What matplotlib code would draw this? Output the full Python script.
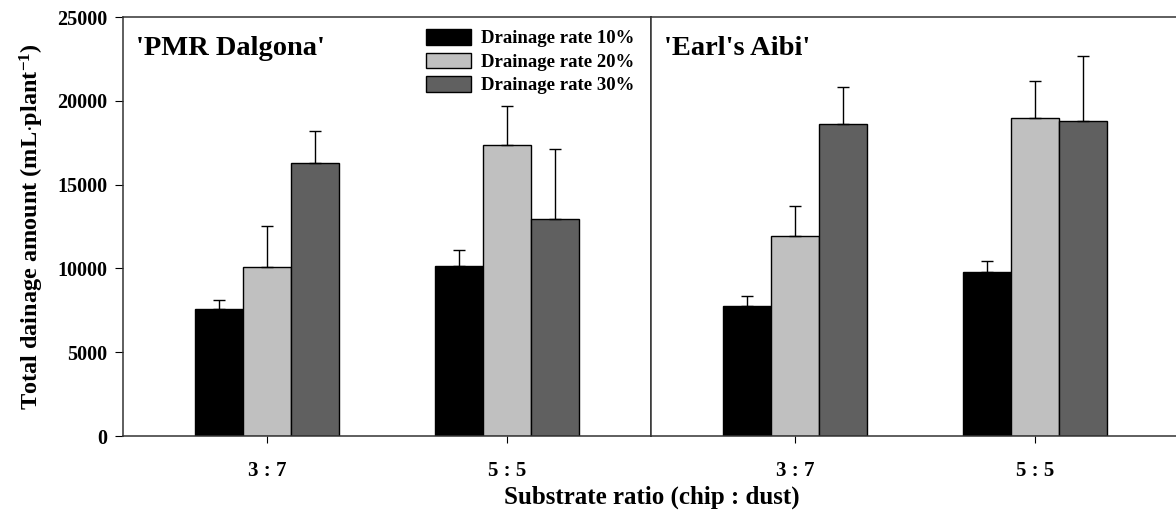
import numpy as np
import matplotlib
matplotlib.use("Agg")
import matplotlib.pyplot as plt

plt.rcParams['font.family'] = ['Liberation Serif', 'DejaVu Serif']
plt.rcParams['font.weight'] = 'bold'
plt.rcParams['mathtext.fontset'] = 'custom'
plt.rcParams['mathtext.rm'] = 'Liberation Serif:bold'
plt.rcParams['mathtext.it'] = 'Liberation Serif:bold'
plt.rcParams['mathtext.bf'] = 'Liberation Serif:bold'

# data
ratios = ["3 : 7", "5 : 5"]
rates = ["Drainage rate 10%", "Drainage rate 20%", "Drainage rate 30%"]
cultivars = ["'PMR Dalgona'", "'Earl's Aibi'"]

dalgona_mean = [[7580, 10120], [10100, 17360], [16290, 12920]]
dalgona_err = [[520, 990], [2440, 2360], [1900, 4200]]
aibi_mean = [[7780, 9760], [11960, 18990], [18630, 18770]]
aibi_err = [[600, 680], [1750, 2220], [2180, 3910]]

colors = ['#000000', '#c0c0c0', '#606060']

fig = plt.figure(figsize=(11.76, 5.16), dpi=100)
ax1 = fig.add_axes([0.1046, 0.155, 0.449, 0.812])
ax2 = fig.add_axes([0.5536, 0.155, 0.449, 0.812], sharey=ax1)

x = np.arange(1, len(ratios) + 1)
w = 0.2

for ax, means, errs, name in [(ax1, dalgona_mean, dalgona_err, cultivars[0]),
                              (ax2, aibi_mean, aibi_err, cultivars[1])]:
    for i in range(3):
        ax.bar(x + (i - 1) * w, means[i], w, color=colors[i], edgecolor='black',
               linewidth=1, label=rates[i],
               yerr=[np.zeros(len(ratios)), errs[i]],
               error_kw=dict(ecolor='black', elinewidth=1, capsize=4, capthick=1))
    ax.set_xlim(0.4, 2.6)
    ax.set_ylim(0, 25000)
    ax.set_xticks(x)
    ax.set_xticklabels(ratios, fontsize=15, fontweight='bold')
    ax.tick_params(axis='x', direction='out', length=5, pad=13)
    ax.text(0.025, 0.955, name, transform=ax.transAxes, fontsize=20.5,
            fontweight='bold', va='top', ha='left')
    for s in ax.spines.values():
        s.set_linewidth(1.1)
        s.set_color('#333333')

ax1.set_yticks(np.arange(0, 25001, 5000))
ax1.tick_params(axis='y', direction='out', length=6, labelsize=14.5, pad=5)
for lbl in ax1.get_yticklabels():
    lbl.set_fontweight('bold')
ax2.tick_params(axis='y', left=False, labelleft=False)
ax2.spines['right'].set_visible(False)

ax1.set_ylabel('Total dainage amount (mL$\\cdot$plant$^{-1}$)', fontsize=17.5,
               fontweight='bold', labelpad=8)
fig.text(0.554, 0.036, 'Substrate ratio (chip : dust)', fontsize=18,
         fontweight='bold', ha='center', va='center')

ax1.legend(loc='upper left', bbox_to_anchor=(0.55, 1.0), frameon=False,
           handlelength=2.4, handleheight=0.9,
           labelspacing=0.28, handletextpad=0.55, borderaxespad=0.25,
           prop={'weight': 'bold', 'size': 13.5})

fig.savefig('out.png', dpi=100)
